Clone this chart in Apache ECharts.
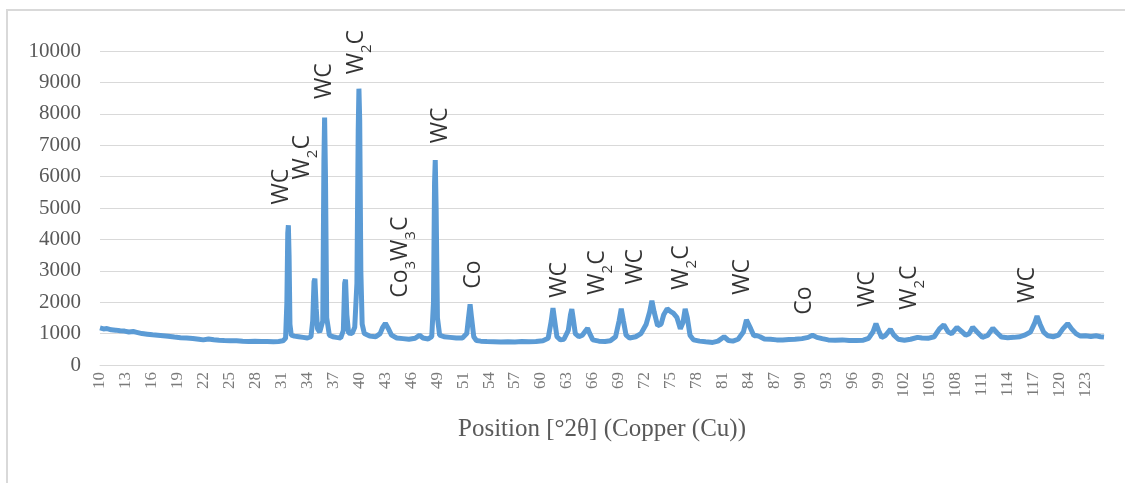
<!DOCTYPE html>
<html>
<head>
<meta charset="utf-8">
<script src="https://cdn.jsdelivr.net/npm/echarts@6/dist/echarts.min.js"></script>
<style>
  html, body { margin: 0; padding: 0; background: #fff; }
  #chart { width: 1125px; height: 483px; }
</style>
</head>
<body>
<div id="chart"></div>
<script>
// XRD scan: [2theta, counts]
const scanLow = [
  [10.0,1180],[10.4,1150],[10.8,1160],[11.3,1120],[11.8,1110],[12.3,1090],[12.8,1080],[13.3,1050],
  [13.8,1065],[14.2,1040],[14.8,1000],[15.4,980],[16.0,960],[16.6,945],[17.2,930],[17.8,915],
  [18.5,890],[19.2,870],[19.9,860],[20.6,845],[21.3,820],[21.8,800],[22.4,830],[23.0,805],
  [23.6,790],[24.2,780],[24.9,770],[25.6,775],[26.3,760],[27.0,750],[27.7,755],[28.4,745],
  [29.1,750],[29.8,740],[30.4,750],[30.9,770]
]
const scanMain = [
  [31.2,850],[31.35,2000],[31.45,4200],[31.52,4450],[31.6,3500],[31.7,1300],[31.85,950],[32.2,920],
  [32.7,900],[33.2,880],[33.7,860],[34.1,900],[34.3,1400],[34.45,2650],[34.55,2750],[34.7,1800],
  [34.85,1150],[35.1,1050],[35.45,1400],[35.58,6500],[35.66,7880],[35.76,6000],[35.9,1500],[36.2,950],
  [36.6,900],[37.0,880],[37.5,860],[37.8,1100],[37.95,2600],[38.05,2720],[38.2,1600],[38.4,1020],
  [38.8,1000],[39.1,1200],[39.35,2600],[39.5,7500],[39.58,8800],[39.67,7800],[39.8,3000],[39.95,1300],
  [40.2,1000],[40.8,920],[41.5,900],[42.0,1000],[42.3,1200],[42.6,1330],[42.9,1180],[43.3,950],
  [43.9,860],[44.6,840],[45.3,820],[46.0,850],[46.5,950],[46.9,860],[47.5,830],[47.9,900],
  [48.1,2000],[48.22,5800],[48.3,6530],[48.4,5000],[48.55,1500],[48.8,950],[49.3,900],[50.0,880],
  [50.7,860],[51.4,860],[51.9,1000],[52.1,1500],[52.28,1930],[52.45,1500],[52.7,900],[53.0,780]
]
const scanMid = [
  [53.5,760],[54.2,745],[55.0,740],[55.8,730],[56.6,740],[57.4,735],[58.2,745],[59.0,740],
  [59.8,745],[60.6,770],[61.2,850],[61.55,1400],[61.75,1810],[61.95,1400],[62.2,900],[62.6,800],
  [63.0,820],[63.5,1100],[63.75,1600],[63.9,1780],[64.05,1500],[64.3,1000],[64.7,900],[65.1,950],
  [65.5,1100],[65.7,1170],[65.95,1000],[66.3,800],[67.0,760],[67.7,750],[68.3,770],[68.9,900],
  [69.3,1400],[69.55,1790],[69.8,1400],[70.1,950],[70.5,860],[71.2,900],[71.8,1000],[72.4,1300],
  [72.8,1700],[73.05,2050],[73.3,1700],[73.7,1250],[74.1,1300],[74.4,1600],[74.8,1790],[75.2,1700],
  [75.5,1650],[75.9,1520],[76.3,1150],[76.6,1350],[76.85,1790],[77.1,1500],[77.4,950],[77.8,800],
  [78.5,760],[79.2,740],[80.0,720],[80.6,760],[81.3,900],[81.8,780],[82.3,760],[82.9,820],
  [83.5,1050],[83.85,1440],[84.05,1480],[84.35,1150],[84.7,930],[85.0,940],[85.4,900],[85.9,830],
  [86.6,820],[87.3,800],[88.0,800],[88.7,810],[89.4,820]
]
const scanHigh = [
  [90.2,840],[90.9,880],[91.4,950],[91.9,880],[92.5,840],[93.2,800],[94.0,790],[94.8,800],
  [95.6,780],[96.4,780],[97.2,790],[97.8,850],[98.3,1050],[98.65,1320],[98.95,1100],[99.3,880],
  [99.7,930],[100.3,1140],[100.7,950],[101.2,820],[101.9,790],[102.6,820],[103.4,880],[103.9,860],
  [104.6,850],[105.3,900],[105.9,1150],[106.4,1280],[106.9,1050],[107.3,1000],[107.9,1200],[108.4,1080],
  [108.9,950],[109.3,1000],[109.7,1200],[110.2,1050],[110.8,880],[111.4,940],[112.0,1170],[112.5,1020],
  [113.0,890],[113.7,870],[114.4,880],[115.1,900],[115.7,960],[116.3,1050],[116.8,1350],[117.05,1560],
  [117.4,1300],[117.8,1050],[118.3,930],[118.9,900],[119.5,950],[120.0,1150],[120.55,1320],[121.0,1150],
  [121.5,1000],[122.0,920],[122.6,930],[123.2,910],[123.8,930],[124.3,900],[124.7,890]
]

// phase labels: [2theta, counts, text]
const phaseLabels = [
  [30.7, 5110, 'WC'], [33.1, 5910, 'W{s|2}C'], [35.66, 8470, 'WC'], [39.26, 9260, 'W{s|2}C'],
  [44.3, 2140, 'Co{s|3}W{s|3}C'], [48.86, 7060, 'WC'], [52.63, 2430, 'Co'],
  [62.46, 2140, 'WC'], [66.8, 2240, 'W{s|2}C'], [71.14, 2560, 'WC'], [76.4, 2400, 'W{s|2}C'],
  [83.37, 2240, 'WC'], [90.46, 1600, 'Co'], [97.66, 1850, 'WC'], [102.46, 1760, 'W{s|2}C'],
  [115.94, 1980, 'WC']
]

// category labels as the spreadsheet printed them, one every xStep degrees
const xTickLabels = ['10','13','16','19','22','25','28','31','34','37','40','43','46','49','51','54',
  '57','60','63','66','69','72','75','78','81','84','87','90','93','96','99','102','105','108','111',
  '114','117','120','123']
const xStep = 2.963
const xMin = 10, xMax = 124.7

const scan = scanLow.concat(scanMain, scanMid, scanHigh)
const grey = '#595959'

let myChart = echarts.init(document.getElementById('chart'))
myChart.setOption({
  animation: false,
  graphic: [{
    type: 'rect',
    shape: {x: 7, y: 10, width: 1300, height: 700},
    style: {fill: 'none', stroke: '#d9d9d9', lineWidth: 2}
  }],
  grid: {left: 100, right: 21, top: 51, bottom: 118},
  xAxis: {
    type: 'value',
    min: xMin,
    max: xMax,
    name: 'Position [°2θ] (Copper (Cu))',
    nameLocation: 'middle',
    nameGap: 52,
    nameTextStyle: {fontFamily: 'Liberation Serif', fontSize: 25, color: grey},
    axisLine: {show: true, lineStyle: {color: '#d9d9d9', width: 1}},
    axisTick: {show: false},
    splitLine: {show: false},
    axisLabel: {show: false}
  },
  yAxis: {
    type: 'value',
    min: 0,
    max: 10000,
    interval: 1000,
    axisLine: {show: false},
    axisTick: {show: false},
    splitLine: {lineStyle: {color: '#d9d9d9', width: 1}},
    axisLabel: {margin: 19, fontFamily: 'Liberation Serif', fontSize: 21, color: grey, formatter: v => String(v)}
  },
  series: [
    {
      type: 'line',
      data: scan,
      showSymbol: false,
      lineStyle: {color: '#5b9bd5', width: 5},
      z: 3
    },
    {
      type: 'scatter',
      data: phaseLabels.map(d => ({value: [d[0], d[1]], name: d[2]})),
      symbolSize: 0,
      z: 4,
      label: {
        show: true,
        position: 'inside',
        rotate: 90,
        align: 'left',
        verticalAlign: 'middle',
        fontFamily: 'Open Sans',
        fontSize: 23,
        lineHeight: 36,
        color: '#000',
        formatter: p => p.name,
        rich: {
          s: {fontFamily: 'Open Sans', fontSize: 15, lineHeight: 15, verticalAlign: 'bottom', color: '#000'}
        }
      }
    },
    {
      // vertical category labels under the axis line (offset is in the rotated frame)
      type: 'scatter',
      data: xTickLabels.map((t, i) => ({value: [xMin + i * xStep, 0], name: t})),
      symbolSize: 0,
      silent: true,
      z: 4,
      label: {
        show: true,
        position: 'inside',
        offset: [-7, 0],
        rotate: 90,
        align: 'right',
        verticalAlign: 'middle',
        fontFamily: 'Liberation Serif',
        fontSize: 17,
        color: grey,
        formatter: p => p.name
      }
    }
  ]
})
</script>
</body>
</html>
